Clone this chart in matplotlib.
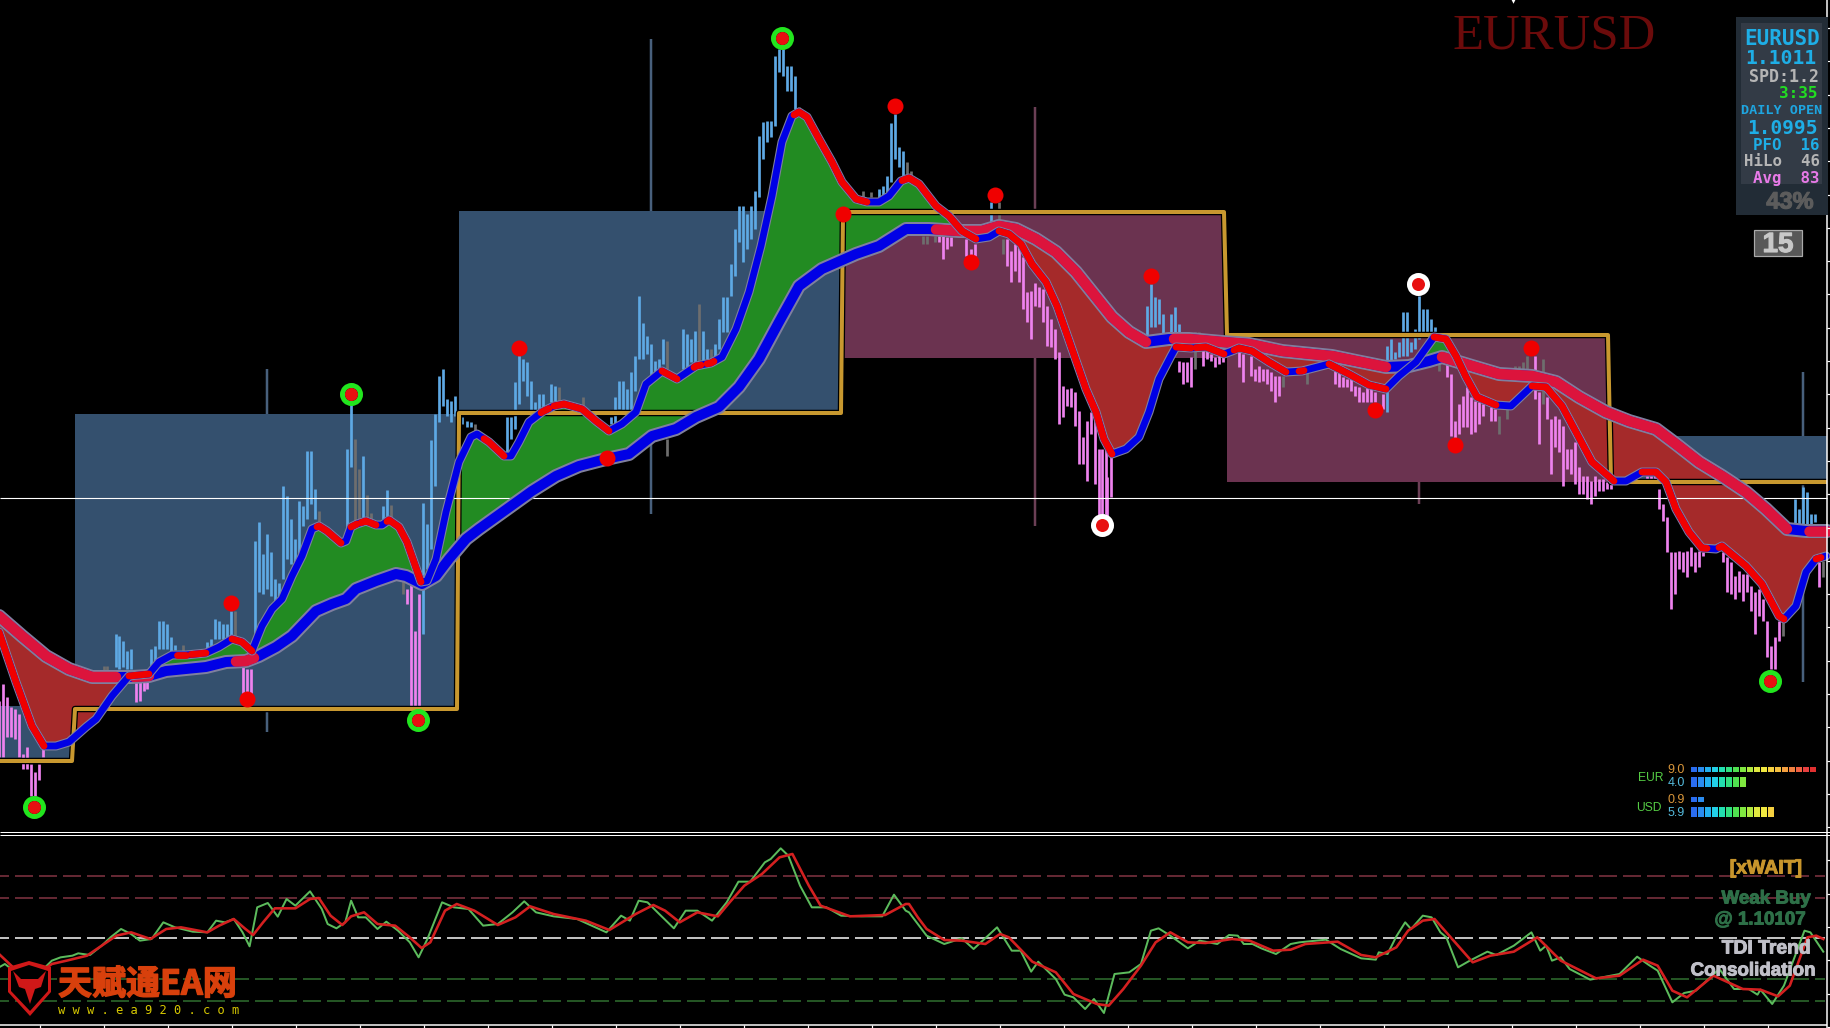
import numpy as np
import matplotlib
matplotlib.use('Agg')
import matplotlib.pyplot as plt
import matplotlib.patheffects as pe
from matplotlib.patches import Polygon, Rectangle

plt.rcParams['lines.scale_dashes'] = False

W, H = 1831, 1028

# fast average
fast_x = [0,17,33,45,57,70,87,97,113,130,150,160,173,187,207,220,233,243,253,263,273,283,293,303,313,320,328,342,347,352,358,367,377,383,390,400,408,415,422,428,437,447,460,472,478,490,505,512,520,530,543,555,565,583,597,610,623,637,647,663,678,697,712,723,737,750,762,773,783,793,800,808,820,833,843,857,868,880,890,902,910,920,937,950,963,977,990,1000,1010,1022,1033,1047,1058,1073,1087,1097,1105,1113,1127,1140,1150,1160,1172,1177,1192,1207,1225,1233,1240,1253,1270,1287,1303,1330,1350,1370,1387,1400,1417,1435,1447,1457,1467,1478,1497,1512,1533,1547,1563,1577,1593,1615,1627,1643,1657,1667,1677,1690,1703,1717,1723,1747,1763,1780,1785,1797,1807,1817,1827]
fast_y = [633,683,727,747,747,743,728,720,697,677,675,663,656,656,654,648,640,643,652,627,610,600,577,557,530,527,532,544,542,528,525,522,526,526,521,528,543,563,583,582,560,513,463,438,435,443,457,457,443,423,413,407,405,410,422,432,425,413,385,372,380,367,364,358,330,293,247,197,143,117,113,118,140,163,183,200,203,203,197,182,179,185,207,217,232,240,238,232,235,245,265,283,307,350,390,413,440,455,450,438,413,380,357,348,349,348,355,352,349,352,363,373,372,365,375,386,390,377,363,338,340,357,378,398,406,407,387,388,407,433,463,482,482,473,473,483,510,533,549,550,547,567,585,617,620,607,573,560,557]
fast_red = [(0,45),(130,150),(178,187),(192,207),(233,253),(318,342),(352,358),(362,377),(388,422),(485,505),(542,550),(555,610),(663,678),(695,702),(708,715),(795,868),(903,977),(1000,1113),(1177,1192),(1197,1225),(1235,1287),(1300,1305),(1330,1387),(1435,1497),(1533,1615),(1643,1708),(1720,1785),(1817,1822)]

# slow average
slow_x = [0,23,47,70,93,117,133,150,167,187,207,227,247,260,277,293,317,333,347,357,377,397,407,423,437,450,467,480,533,557,580,607,630,653,677,697,720,740,760,780,800,823,857,880,907,930,960,983,1000,1017,1037,1057,1077,1093,1113,1130,1147,1170,1190,1223,1250,1283,1333,1357,1387,1410,1430,1443,1473,1500,1533,1557,1580,1607,1630,1657,1677,1700,1723,1747,1767,1788,1807,1828]
slow_y = [617,637,657,670,678,678,678,677,672,670,668,663,662,657,648,637,612,605,600,590,582,575,577,585,577,560,540,530,492,477,467,460,455,437,430,418,408,388,360,323,287,270,255,247,230,230,232,232,227,230,240,253,273,293,318,333,343,340,340,343,345,352,357,362,368,367,362,358,367,375,377,383,398,413,422,430,445,463,477,493,510,530,532,532]
slow_red = [(0,117),(135,150),(237,255),(937,1147),(1175,1387),(1443,1788),(1810,1828)]

# histogram bars: x, top, bottom
up_bars = [(117,635,668),(120,637,670),(124,642,668),(128,652,670),(132,650,670),(152,650,670),(156,647,668),(160,622,650),(164,622,650),(168,625,650),(172,638,652),(176,646,651),
    (208,643,660),(212,640,650),(216,620,640),(220,622,640),(224,625,640),(228,625,640),(232,612,645),(256,542,640),(260,523,593),(264,555,595),(268,535,590),(272,553,597),(276,580,602),(280,584,600),
    (284,487,580),(288,497,560),(292,520,565),(296,540,565),(300,502,562),(304,507,527),(308,452,520),(312,452,505),(316,490,520),(348,450,530),(352,400,468),(364,457,520),(384,507,520),(388,491,525),
    (424,504,635),(428,525,570),(432,441,550),(436,415,487),(440,377,423),(444,370,407),(448,400,417),(452,402,423),(456,397,417),(463,418,425),(468,422,428),(472,423,428),
    (508,418,453),(512,418,440),(516,383,430),(520,355,405),(524,360,382),(528,363,397),(532,382,412),(536,403,412),(540,395,412),(544,395,412),(552,385,403),(556,387,402),
    (612,418,425),(616,398,425),(620,382,410),(624,382,412),(628,390,412),(632,373,412),(636,357,392),(640,297,360),(644,324,360),(648,337,355),(652,345,377),(656,362,373),(660,360,372),(664,340,365),
    (684,330,370),(688,335,368),(692,340,363),(696,332,363),(704,332,362),(708,350,360),(716,345,358),(720,320,350),(724,298,333),(728,298,333),(732,265,297),(736,230,277),(740,207,243),(744,207,263),(748,215,250),(752,207,240),(756,192,230),
    (760,137,198),(764,123,160),(768,122,143),(772,122,138),(776,57,127),(780,50,73),(784,50,77),(788,67,92),(792,67,92),(796,77,110),
    (880,190,198),(884,187,198),(888,177,193),(892,124,183),(896,115,160),(900,148,168),(904,152,177),(992,203,227),
    (1148,307,337),(1152,285,328),(1156,298,328),(1160,300,325),(1164,315,335),(1172,315,333),(1176,308,333),(1180,325,337),
    (1388,347,413),(1392,340,362),(1396,353,360),(1400,343,358),(1404,313,357),(1408,313,357),(1412,343,353),(1416,330,350),(1420,297,340),(1424,310,335),(1428,310,335),(1432,320,333),(1436,328,333),
    (1796,500,527),(1800,510,527),(1804,488,525),(1808,493,525),(1812,515,525),(1816,515,523)]
dn_bars = [(0,702,758),(4,685,758),(8,698,738),(12,708,738),(16,710,740),(20,715,758),(24,755,770),(28,748,770),(32,765,797),(36,773,797),(40,765,781),(44,750,758),
    (137,680,703),(141,680,702),(145,683,692),(148,683,690),(244,668,695),(248,670,695),(252,670,695),(408,590,605),(412,580,710),(416,632,710),(420,595,710),
    (940,237,243),(944,237,260),(948,238,250),(952,238,247),(967,240,257),(972,250,257),(976,245,257),
    (1008,240,267),(1012,252,283),(1016,245,272),(1020,248,283),(1024,258,310),(1028,293,323),(1032,292,340),(1036,284,307),(1040,288,308),(1044,290,323),(1048,307,347),(1052,320,348),(1056,330,360),
    (1060,353,425),(1064,387,418),(1068,390,407),(1072,389,408),(1076,393,427),(1080,412,465),(1084,438,465),(1088,422,482),(1092,413,435),(1096,418,485),(1100,450,517),(1108,478,517),(1112,457,498),
    (1180,362,373),(1184,363,385),(1188,363,383),(1192,358,388),(1204,335,367),(1208,352,360),(1212,355,362),(1216,358,368),(1220,357,365),(1224,358,363),
    (1240,353,368),(1244,355,383),(1252,357,377),(1256,370,382),(1260,367,383),(1264,370,382),(1268,370,385),(1272,373,392),(1276,377,403),(1280,377,397),
    (1336,372,385),(1340,373,388),(1344,378,388),(1348,380,388),(1352,380,392),(1356,387,397),(1360,388,403),(1364,393,403),(1368,388,403),(1372,390,403),(1376,393,403),(1384,395,410),
    (1448,365,378),(1452,375,437),(1456,422,440),(1460,405,435),(1464,397,428),(1468,388,428),(1472,398,435),(1476,402,433),(1480,403,425),(1484,405,417),(1492,408,422),(1496,410,422),
    (1536,357,400),(1540,393,445),(1548,398,420),(1552,420,475),(1556,417,448),(1560,420,453),(1564,427,487),(1568,450,470),(1572,450,475),(1576,443,485),(1580,468,495),(1584,477,495),(1588,477,500),(1592,482,505),(1596,477,497),(1600,480,492),(1604,480,492),(1608,483,490),(1612,485,490),
    (1648,477,480),(1652,477,480),(1656,477,480),(1660,490,510),(1664,505,522),(1668,518,553),(1672,553,610),(1676,553,595),(1680,552,570),(1684,553,573),(1688,552,578),(1692,548,567),(1696,553,573),(1700,552,568),(1704,553,557),
    (1724,553,563),(1728,558,593),(1732,563,595),(1736,577,600),(1740,572,593),(1744,575,602),(1748,575,593),(1752,587,612),(1756,593,635),(1760,590,617),(1764,600,622),(1768,622,658),(1772,647,670),(1776,638,670),(1780,622,642),(1820,563,588)]
dn_wicks = [(1103,450,515),(1107,450,515)]
flat_bars = [(105,667,672),(108,667,672),(184,646,652),(236,612,640),(320,512,525),(356,440,525),(360,470,520),(368,496,520),(372,514,522),(392,506,525),(404,582,595),(476,425,433),(560,388,402),(584,398,408),
    (668,342,370),(668,440,457),(700,305,362),(712,350,360),(800,108,115),(864,192,198),(872,193,198),(908,163,175),(912,172,177),(924,237,245),(928,237,245),(936,237,243),(1000,203,227),(1004,240,255),
    (1196,333,370),(1200,333,340),(1284,377,388),(1308,373,385),(1440,363,372),(1500,417,435),(1508,410,420),(1516,367,372),(1520,367,372),(1524,363,372),(1528,357,370),(1544,360,405),(1784,623,637),(1824,562,578)]

# long thin spikes behind the boxes
spike_x = [268,652,1036,1420,1804]
spike_top = [370,40,108,470,373]
spike_bot = [733,515,527,505,683]
spike_col = ['#48607c','#48607c','#6b3f55','#6b3f55','#48607c']

# range boxes: x0, x1, top, bottom
blue_boxes = [(0,73,707,762),(76,458,415,710),(460,842,212,414),(1612,1828,437,483)]
purple_boxes = [(844,1225,212,359),(1228,1612,336,483)]
step_x = [0,73,76,458,460,842,844,1225,1228,1609,1612,1826]
step_y = [762,762,710,710,414,414,213,213,336,336,483,483]

red_x = [232,248,520,608,844,896,996,972,1152,1376,1532,1456]
red_y = [604,700,349,459,215,107,196,263,277,411,349,446]
green_ring_x = [35,419,352,783,1771]
green_ring_y = [808,721,395,39,682]
white_ring_x = [1103,1419]
white_ring_y = [526,285]

tdi_green_left = [(0,415),(10,405),(25,425),(50,445),(70,430),(90,395),(105,385),(125,380),(135,373),(155,378),(175,350),(190,325),(208,300),(225,315),(240,335),(260,330),(280,280),(300,295),(330,308),(355,310),(370,275),(385,280),(400,270),(415,310),(427,352),(440,235),(458,222),(475,263),(490,210),(505,230),(530,187),(550,240),(560,285),(575,298),(590,280),(600,215),(612,265),(625,265),(645,300),(660,278),(680,305),(700,340),(715,385),(730,330),(755,220),(775,235),(800,240),(825,290),(850,285),(875,250),(895,217),(915,250),(945,262),(985,270),(1010,290),(1035,310),(1060,260),(1075,275),(1090,215),(1105,220),(1125,255),(1150,298),(1170,245),(1190,245),(1215,275),(1240,220),(1260,158),(1280,158),(1305,100),(1315,90),(1332,58),(1345,80),(1365,170),(1385,235),(1410,235),(1435,260),(1470,262),(1505,262),(1525,197),(1545,245)]
tdi_red_left = [(0,375),(30,425),(50,440),(70,430),(90,405),(115,395),(150,380),(175,350),(200,320),(225,310),(258,330),(285,300),(310,295),(355,310),(375,290),(400,270),(420,300),(433,318),(450,280),(470,238),(505,238),(530,210),(545,207),(565,260),(585,288),(600,262),(622,250),(645,285),(675,290),(700,325),(720,357),(735,340),(760,245),(780,225),(810,245),(850,288),(880,265),(905,232),(945,255),(1000,275),(1040,303),(1085,255),(1115,228),(1135,245),(1160,280),(1190,250),(1225,262),(1245,220),(1270,170),(1300,135),(1330,85),(1352,75),(1380,170),(1400,230),(1450,262),(1510,258),(1545,225)]
tdi_green_right = [(0,250),(15,285),(30,320),(60,345),(90,328),(110,360),(150,295),(175,365),(190,365),(208,428),(220,398),(250,450),(265,497),(280,505),(300,540),(315,510),(332,552),(350,435),(375,430),(395,405),(412,305),(425,298),(445,320),(475,358),(495,335),(525,345),(545,318),(560,320),(570,345),(585,345),(600,358),(625,375),(650,345),(665,340),(710,332),(735,360),(770,388),(795,392),(800,370),(815,375),(830,322),(845,280),(855,300),(875,260),(890,265),(905,310),(915,325),(935,415),(955,395),(985,368),(1000,378),(1030,350),(1060,310),(1075,365),(1085,350),(1095,395),(1110,385),(1125,420),(1160,452),(1210,435),(1240,383),(1260,408),(1275,425),(1300,520),(1320,492),(1340,485),(1380,420),(1405,480),(1430,480),(1445,497),(1450,482),(1470,525),(1490,470),(1525,305),(1535,310),(1557,368)]
tdi_red_right = [(0,225),(15,265),(30,300),(60,333),(90,335),(130,345),(155,315),(170,325),(210,398),(250,430),(280,495),(320,525),(340,530),(365,480),(395,410),(420,340),(445,310),(475,340),(505,342),(550,330),(580,335),(620,365),(650,362),(675,345),(730,338),(770,378),(795,385),(830,355),(850,305),(875,275),(895,270),(925,330),(960,400),(990,380),(1030,368),(1070,325),(1110,395),(1170,448),(1210,440),(1250,392),(1275,410),(1300,485),(1325,505),(1370,440),(1420,480),(1450,482),(1480,502),(1500,470),(1530,325),(1545,320),(1557,330)]
tdi_levels = [877,899,939,980,1002]
tdi_level_cols = ['#7d3340','#7d3340','#f0f0f0','#2e6b2e','#2e6b2e']

# currency strength meter
meter_vals = [9.0,4.0,0.9,5.9]
meter_rows = [770,783,800,813]
meter_cols = ['#2a6cf0','#2a8cf0','#22b0f0','#22d0e8','#22e0b0','#30e080','#50e050','#80e840','#b0e840','#e0e840','#f0e840','#f5d040','#f5c040','#f5a040','#f08040','#f06040','#e84040','#e03030']


def tdi_xy(pts, right=False):
    a = np.array(pts, dtype=float)
    if right:
        return 910 + a[:, 0] / 1.703, 830 + a[:, 1] / 3
    return a[:, 0] / 1.704, 830 + a[:, 1] / 3


def px(n):
    return n * 0.72


def heavy(col, w=0.5):
    return [pe.withStroke(linewidth=w, foreground=col)]


fig = plt.figure(figsize=(W / 100, H / 100), dpi=100, facecolor='black')
ax = fig.add_axes([0, 0, 1, 1])
# the crops read about one pixel low and right of where the marks sit
ax.set_xlim(1, W + 1)
ax.set_ylim(H + 1, 1)
ax.axis('off')

# spikes, boxes
ax.vlines(spike_x, spike_top, spike_bot, colors=spike_col, lw=px(2.5), zorder=1)
for x0, x1, t, b in blue_boxes:
    ax.add_patch(Rectangle((x0, t), x1 - x0, b - t, fc='#34506e', ec='none', zorder=2))
for x0, x1, t, b in purple_boxes:
    ax.add_patch(Rectangle((x0, t), x1 - x0, b - t, fc='#6b3350', ec='none', zorder=2))

# histogram
for bars, col in [(up_bars, '#5ea9e4'), (dn_bars + dn_wicks, '#ee82ee'), (flat_bars, '#6e6e6e')]:
    bx, bt, bb = zip(*bars)
    ax.vlines(bx, bt, bb, colors=col, lw=px(2.7), zorder=3)

# area between the averages
grid = np.arange(0, 1829)
f = np.interp(grid, fast_x, fast_y)
s = np.interp(grid, slow_x, slow_y)
ax.fill_between(grid, f, s, where=f <= s, color='#228b22', lw=0, interpolate=True, zorder=4)
ax.fill_between(grid, f, s, where=f >= s, color='#a52a2a', lw=0, interpolate=True, zorder=4)

# gold step line
ax.plot(step_x, step_y, color='black', lw=px(6.5), zorder=5, solid_joinstyle='round')
ax.plot(step_x, step_y, color='#c8982f', lw=px(4), zorder=5.1, solid_joinstyle='round')

ax.hlines(499, 1, 1828, colors='white', lw=px(1.1), zorder=5.2)

# slow and fast averages
ax.plot(slow_x, slow_y, color='#7f7f9f', lw=px(14), zorder=6, solid_capstyle='round', solid_joinstyle='round')
ax.plot(slow_x, slow_y, color='#0000e6', lw=px(10), zorder=6.1, solid_capstyle='round', solid_joinstyle='round')
for a, b in slow_red:
    xx = np.arange(a, b + 1)
    ax.plot(xx, np.interp(xx, slow_x, slow_y), color='#dc143c', lw=px(10.5), zorder=6.2, solid_capstyle='round', solid_joinstyle='round')
ax.plot(fast_x, fast_y, color='#7f7f9f', lw=px(9), zorder=7, solid_capstyle='round', solid_joinstyle='round')
ax.plot(fast_x, fast_y, color='#0000e6', lw=px(6.8), zorder=7.1, solid_capstyle='round', solid_joinstyle='round')
for a, b in fast_red:
    xx = np.arange(a, b + 1)
    ax.plot(xx, np.interp(xx, fast_x, fast_y), color='#f00000', lw=px(6.8), zorder=7.2, solid_capstyle='round', solid_joinstyle='round')

# dots
ax.scatter(red_x, red_y, s=px(16) ** 2, c='#f00000', lw=0, zorder=8)
ax.scatter(green_ring_x, green_ring_y, s=px(18) ** 2, c='black', edgecolors='#22e51e', lw=px(5), zorder=8)
ax.scatter(white_ring_x, white_ring_y, s=px(18) ** 2, c='white', edgecolors='white', lw=px(5), zorder=8)
ax.scatter(green_ring_x + white_ring_x, green_ring_y + white_ring_y, s=px(13) ** 2, c='#e81010', lw=0, zorder=8.1)

# window frame
ax.hlines([832.6, 835.6], 1, W + 1, colors='white', lw=px(1), zorder=9)
ax.hlines(1026, 1, 1828, colors='white', lw=px(1.5), zorder=9)
ax.vlines(1828, 1, 1029, colors='white', lw=px(1.5), zorder=9)
ax.hlines(np.arange(29, 1028, 33.3), 1828, W + 1, colors='white', lw=px(1.2), zorder=9)
ax.vlines(np.arange(41, 1828, 64), 1026, H + 1, colors='white', lw=px(1.2), zorder=9)
ax.scatter([1514], [1], marker='v', s=22, c='white', lw=0, zorder=9)

# TDI
for y, col in zip(tdi_levels, tdi_level_cols):
    ax.plot([1, 1826], [y, y], color=col, lw=px(1.6), ls=(px(9), (px(18), px(6))), zorder=3)
gx1, gy1 = tdi_xy(tdi_green_left)
gx2, gy2 = tdi_xy(tdi_green_right, True)
rx1, ry1 = tdi_xy(tdi_red_left)
rx2, ry2 = tdi_xy(tdi_red_right, True)
ax.plot(np.r_[gx1, gx2], np.r_[gy1, gy2], color='#5cbb5c', lw=px(2), zorder=4)
ax.plot(np.r_[rx1, rx2], np.r_[ry1, ry2], color='#d42020', lw=px(2.6), zorder=4.1)

# top title
ax.text(1555, 37, 'EURUSD', family='Liberation Serif', fontsize=36.5, color='#6b0b0b', ha='center', va='center', zorder=10)

# info panel
ax.add_patch(Rectangle((1737, 18), 92, 198, fc='#222c36', ec='none', zorder=10))
ax.add_patch(Rectangle((1742, 24), 81, 161, fc='#333b46', ec='none', zorder=10.1))
mono = 'DejaVu Sans Mono'
panel_txt = ['EURUSD', '1.1011', 'SPD:1.2', '3:35', 'DAILY OPEN', '1.0995', 'PFO  16', 'HiLo  46', 'Avg  83']
panel_y = [40, 59, 78, 95, 112, 129, 146, 163, 179]
panel_right = [1821, 1818, 1820, 1819, 1823, 1819, 1821, 1821, 1821]
panel_size = [15, 14.2, 12, 11.5, 9.7, 14, 11.3, 11.3, 11.3]
panel_col = ['#1eaee6', '#1eaee6', '#b5b5b5', '#22dd22', '#1ea5e0', '#1eaee6', '#1eaee6', '#b5b5b5', '#e87ae8']
panel_wt = ['bold', 'bold', 'bold', 'bold', 'bold', 'bold', 'bold', 'bold', 'bold']
for t, y, r, sz, c, w in zip(panel_txt, panel_y, panel_right, panel_size, panel_col, panel_wt):
    ax.text(r, y, t, family=mono, fontsize=sz, color=c, fontweight=w, ha='right', va='center', zorder=11)
ax.text(1791, 203, '43%', family='Liberation Sans', fontweight='bold', fontsize=17, color='#5c5c5c', ha='center', va='center', zorder=11, path_effects=heavy('#5c5c5c', 0.8))
ax.add_patch(Rectangle((1755, 231), 48, 26, fc='#585858', ec='#aaaaaa', lw=px(1.2), zorder=10))
ax.text(1779, 246, '15', family='Liberation Sans', fontweight='bold', fontsize=20, color='#c8c8c8', ha='center', va='center', zorder=11, path_effects=heavy('#c8c8c8', 0.8))

# strength meter
ax.text(1652, 779, 'EUR', family='Liberation Sans', fontsize=8.7, color='#55cc44', ha='center', va='center', zorder=11)
ax.text(1650, 809, 'USD', family='Liberation Sans', fontsize=8.7, color='#55cc44', ha='center', va='center', zorder=11)
for i, (v, y) in enumerate(zip(meter_vals, meter_rows)):
    h = 5 if i in (0, 2) else 10
    n = int(round(v * 2))
    ax.bar(1695 + 7 * np.arange(n), h, width=6, bottom=y - h / 2, color=meter_cols[:n], lw=0, zorder=10)
    ax.text(1686, y + 1, f'{v:.1f}', family='Liberation Sans', fontsize=9, color='#d9963a' if i % 2 == 0 else '#55bbdd', ha='right', va='center', zorder=11)

# signal text
sans = 'Liberation Sans'
sig_txt = ['[xWAIT]', 'Weak Buy', '@ 1.10107', 'TDI Trend', 'Consolidation']
sig_x = [1767, 1767, 1761, 1767, 1754]
sig_y = [870, 900, 921, 950, 972]
sig_size = [14, 13.5, 13.5, 13.9, 13.5]
sig_col = ['#c8952c', '#2e7048', '#2e7048', '#c0c0c8', '#c0c0c8']
for t, x, y, sz, c in zip(sig_txt, sig_x, sig_y, sig_size, sig_col):
    ax.text(x, y, t, family=sans, fontweight='bold', fontsize=sz, color=c, ha='center', va='center', zorder=11, path_effects=heavy(c, 0.7))

# watermark logo
ax.add_patch(Polygon([(9, 968), (30, 962), (52, 968), (52, 993), (31, 1017), (9, 993)], closed=True, fc='#d01818', ec='none', zorder=10))
ax.add_patch(Polygon([(12, 972), (30, 966), (49, 972), (49, 992), (31, 1012), (12, 992)], closed=True, fc='black', ec='none', zorder=10.1))
ax.add_patch(Polygon([(14, 972), (22, 980), (39, 980), (47, 972), (42, 988), (36, 990), (31, 1005), (26, 990), (20, 988)], closed=True, fc='#d01818', ec='none', zorder=10.2))
ax.text(59, 985, '天赋通EA网', family=['Noto Sans CJK SC', 'DejaVu Sans'], fontweight='black', fontsize=24.5, color='#d8400c', ha='left', va='center', zorder=11, path_effects=heavy('#d8400c', 1.0))
ax.text(59, 1012, 'w w w . e a 9 2 0 . c o m', family=mono, fontsize=8.7, color='#d6c800', ha='left', va='center', zorder=11)

fig.savefig('out.png', dpi=100, facecolor='black')
